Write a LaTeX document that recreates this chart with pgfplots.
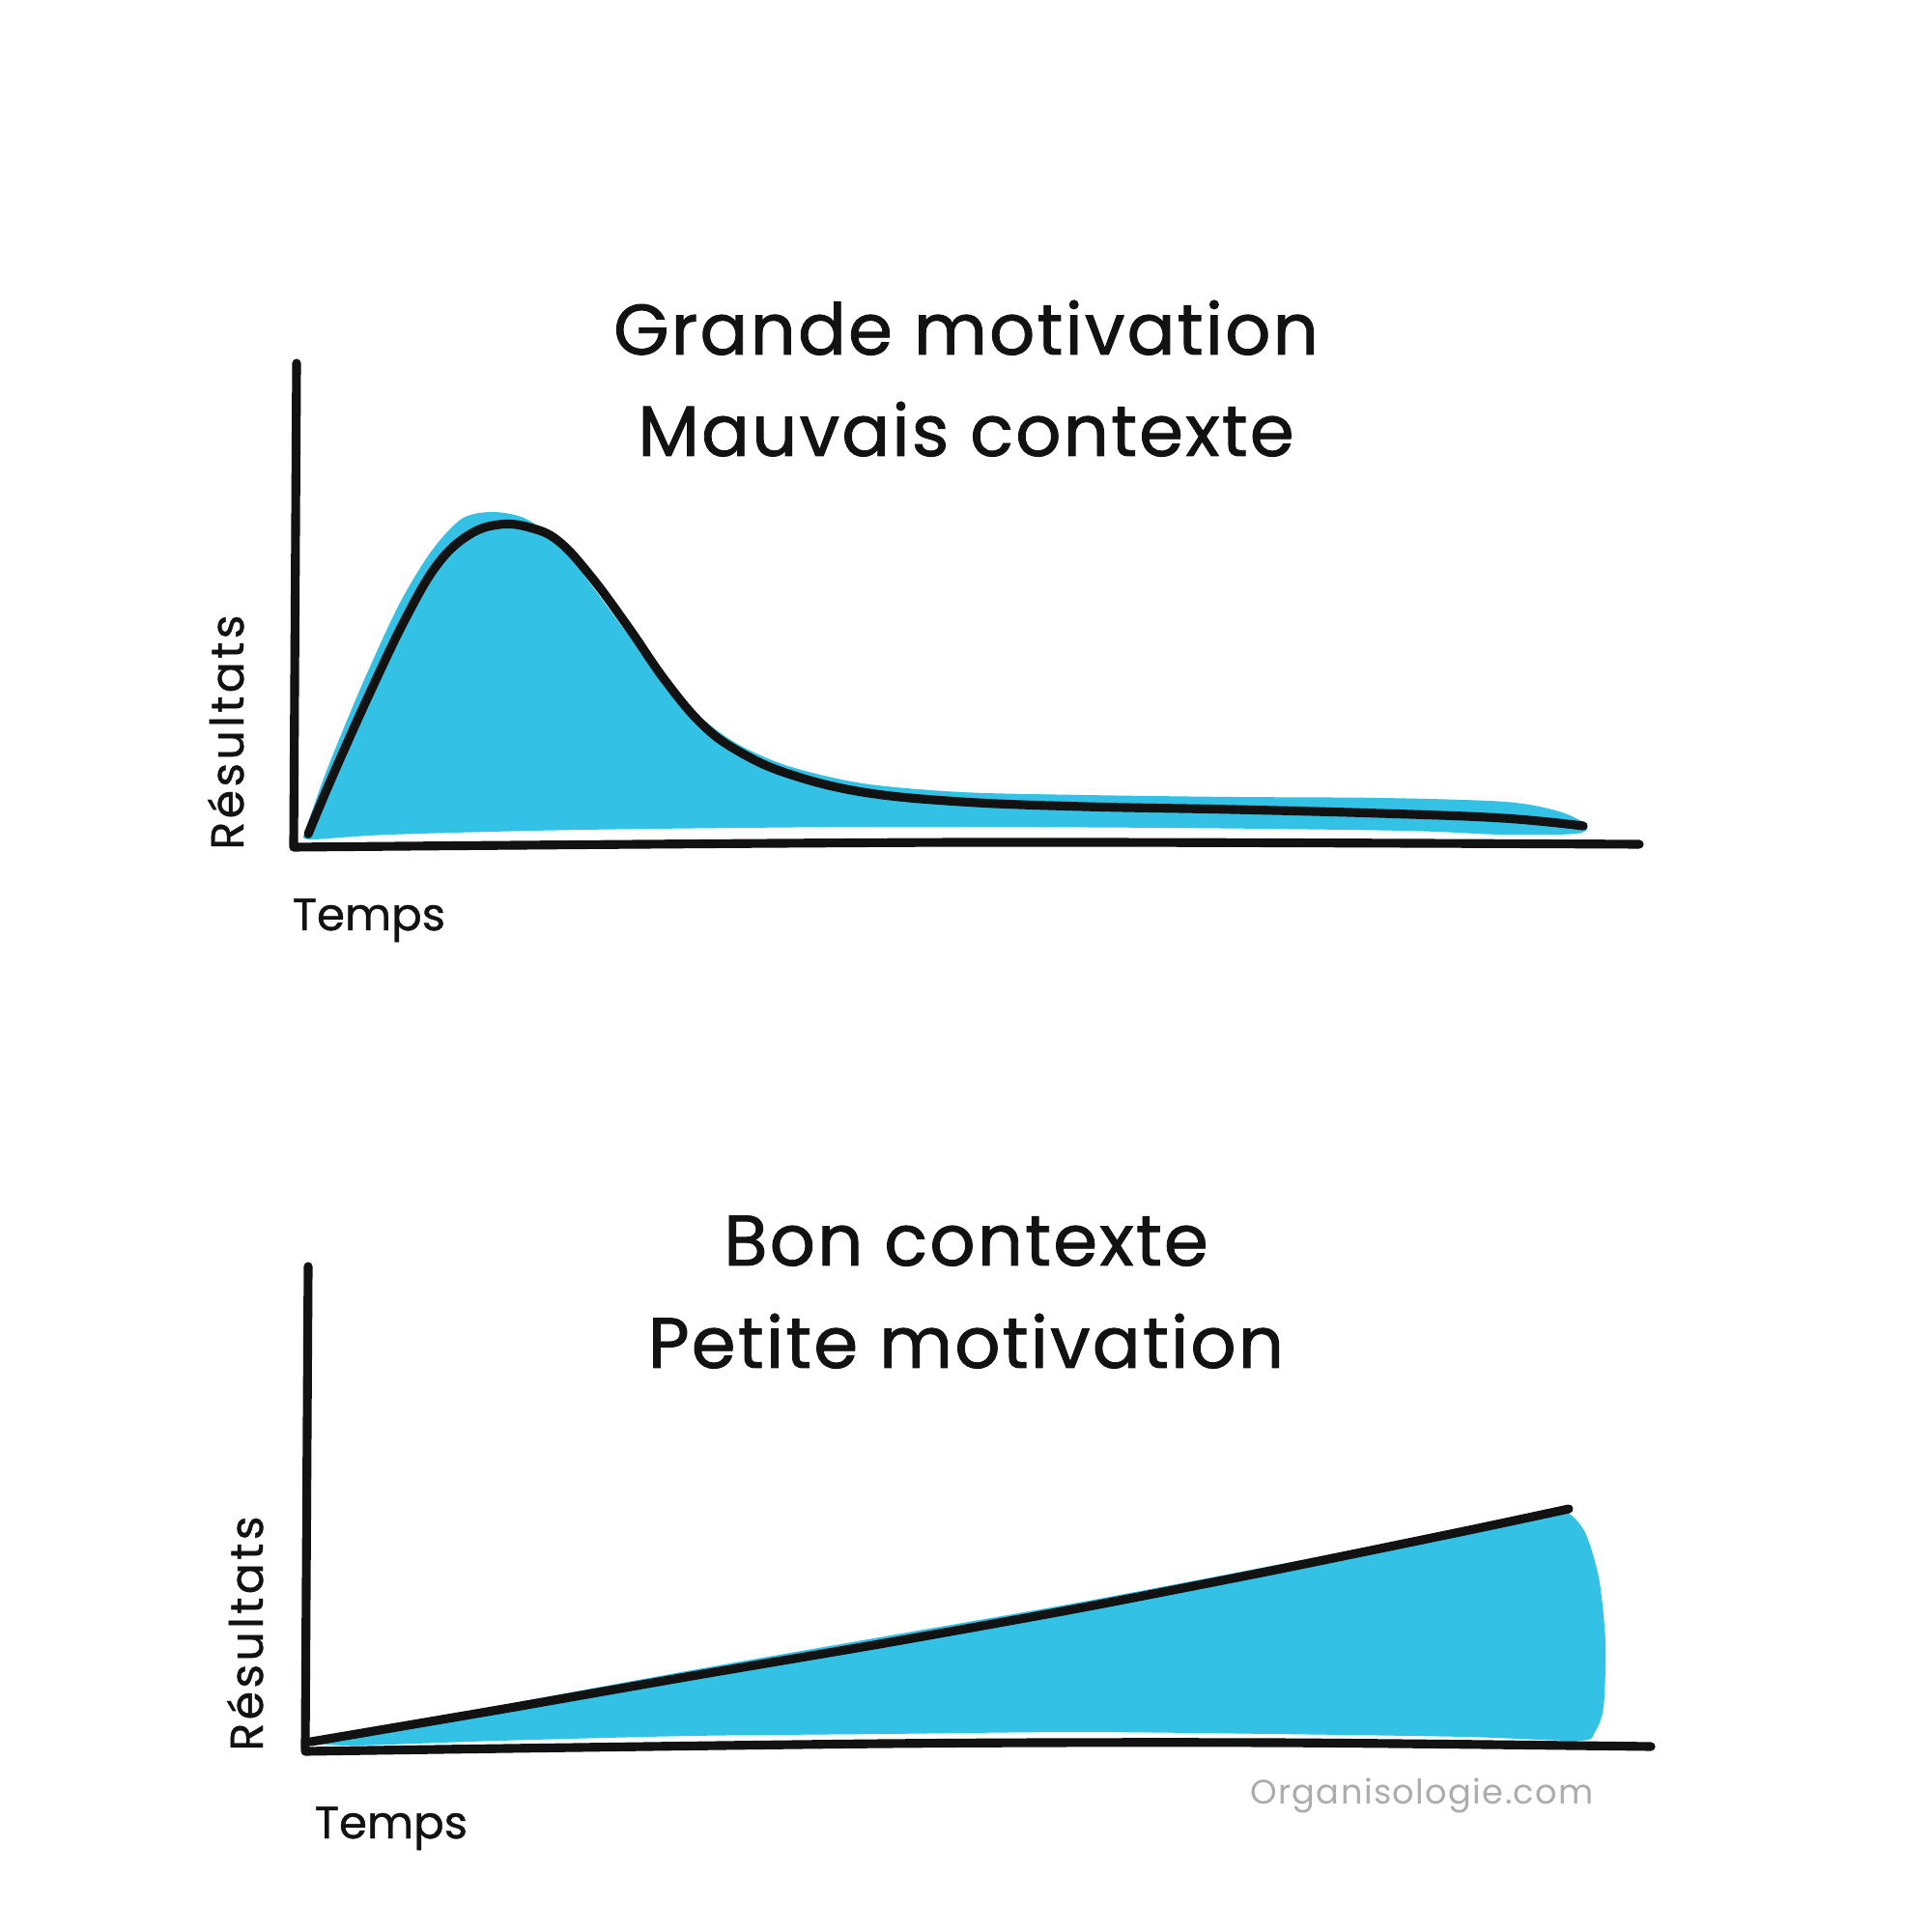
\documentclass[border=0pt]{standalone}
\usepackage{fontspec}
\setmainfont{Poppins}
\newfontfamily\titlefont{Poppins}[FakeBold=1.2, LetterSpace=3]
\newfontfamily\labelfont{Poppins}[FakeBold=0.8]
\newfontfamily\ylabelfont{Poppins}[FakeBold=0.8, LetterSpace=7]
\newfontfamily\wmfont{Poppins}[LetterSpace=4]
\usepackage{pgfplots}
\pgfplotsset{compat=1.18}
\definecolor{fillblue}{RGB}{51,193,229}
\definecolor{ink}{RGB}{18,18,18}
\definecolor{wm}{RGB}{172,172,172}
\pgfplotsset{
  sketch/.style={
    scale only axis, width=13.93cm, height=5cm,
    xmin=0, xmax=139.3, ymin=0, ymax=50,
    axis lines=none, clip=false,
  },
  inkline/.style={ink, line width=2.6pt, line cap=round, line join=round},
}
\begin{document}
\begin{tikzpicture}
\path[fill=white] (0,0) rectangle (20cm,20cm);
% ---------------- top chart ----------------
\begin{axis}[sketch, at={(3.04cm,11.24cm)}, anchor=south west]
\addplot[fill=fillblue, draw=none, smooth, tension=0.5] coordinates {
 (1.0,1.0) (3.4,7.8) (7.2,17.0) (11.0,25.2) (14.3,30.6) (17.4,33.9) (20.5,34.6)
 (23.8,34.0) (27.0,31.8) (30.4,27.6) (34.4,22.2) (38.3,17.3) (42.3,13.2) (46.1,10.5)
 (51.2,8.3) (58.9,6.5) (69.1,5.6) (81.8,5.3) (97.2,5.1) (112.5,5.0) (125.4,4.6)
 (131.0,3.6) (133.8,2.2) (132.8,1.3) (125,1.2) (115,1.6) (90,1.9)
 (60,2.0) (30,1.7) (10,1.2) (2.0,0.7) (1.0,1.0)};
\addplot[inkline, smooth, tension=0.65] coordinates {
 (1.5,1.25) (4.0,7.2) (7.9,15.9) (11.7,23.8) (14.9,29.2) (18.1,32.2) (21.3,33.3)
 (24.4,33.0) (27.4,31.6) (30.8,27.9) (34.7,22.6) (38.5,17.1) (42.3,12.6) (46.1,9.8)
 (51.2,7.5) (58.9,5.6) (69.1,4.6) (81.8,4.1) (97.2,3.8) (112.5,3.4) (125.2,2.9)
 (133.5,2.1)};
% axes
\addplot[inkline] coordinates {(0.3,50) (0,0)};
\addplot[inkline, smooth] coordinates {(0,-0.1) (70,0.4) (139.3,0.2)};
\end{axis}
% ---------------- bottom chart ----------------
\begin{axis}[sketch, at={(3.16cm,1.89cm)}, anchor=south west]
\addplot[fill=fillblue, draw=none, smooth, tension=0.45] coordinates {
 (0.6,0.7) (20,4.5) (40,8.2) (60,11.7) (80,15.2) (100,19.0) (120,22.9) (129.4,24.8)
 (132.3,22.8) (133.9,17.8) (134.6,11.1) (134.4,4.4) (133.5,1.8) (131.9,0.9)
 (120,1.3) (100,1.6) (80,1.8) (60,1.6) (40,1.4) (20,0.9) (5,0.4) (0.6,0.7)};
\addplot[inkline, smooth, tension=0.4] coordinates {
 (0.6,0.8) (20,4.1) (40,7.6) (60,11.0) (80,14.6) (100,18.5) (120,22.6) (130.8,24.9)};
\addplot[inkline] coordinates {(0.3,50) (0,0)};
\addplot[inkline, smooth] coordinates {(0,-0.2) (60,0.6) (100,0.7) (139.3,0.3)};
\end{axis}
% ---------------- texts ----------------
\begin{scope}[every node/.style={inner sep=0pt, text=ink}]
\node[anchor=base] at (10cm,16.33cm) {\titlefont\fontsize{21}{25}\selectfont Grande motivation};
\node[anchor=base] at (10cm,15.28cm) {\titlefont\fontsize{21}{25}\selectfont Mauvais contexte};
\node[anchor=base] at (10cm,6.9cm) {\titlefont\fontsize{21}{25}\selectfont Bon contexte};
\node[anchor=base] at (10cm,5.84cm) {\titlefont\fontsize{21}{25}\selectfont Petite motivation};
\node[anchor=base west] at (3.02cm,10.37cm) {\labelfont\fontsize{13.3}{16}\selectfont Temps};
\node[anchor=base west] at (3.25cm,0.97cm) {\labelfont\fontsize{13.3}{16}\selectfont Temps};
\node[anchor=base, rotate=90] at (2.52cm,12.42cm) {\ylabelfont\fontsize{13.5}{16}\selectfont Résultats};
\node[anchor=base, rotate=90] at (2.72cm,3.09cm) {\ylabelfont\fontsize{13.5}{16}\selectfont Résultats};
\node[anchor=base, text=wm] at (14.72cm,1.32cm) {\wmfont\fontsize{10}{12}\selectfont Organisologie.com};
\end{scope}
\end{tikzpicture}
\end{document}
